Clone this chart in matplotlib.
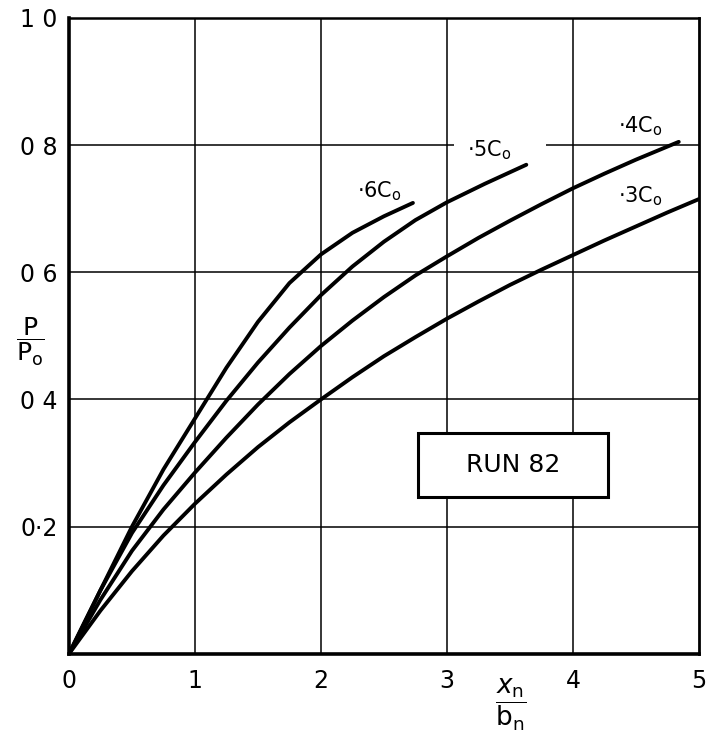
import matplotlib
matplotlib.use('Agg')
import matplotlib.pyplot as plt
from matplotlib.patches import Rectangle

plt.rcParams['font.family'] = 'DejaVu Sans'
plt.rcParams['mathtext.fontset'] = 'dejavusans'

# ── curves: P/Po against xn/bn for each concentration ──
x_6 = [0, 0.25, 0.5, 0.75, 1.0, 1.25, 1.5, 1.75, 2.0, 2.25, 2.5, 2.73]
y_6 = [0, 0.10, 0.20, 0.29, 0.37, 0.45, 0.522, 0.583, 0.628, 0.662, 0.688, 0.709]

x_5 = [0, 0.25, 0.5, 0.75, 1.0, 1.25, 1.5, 1.75, 2.0, 2.25, 2.5, 2.75, 3.0, 3.3, 3.63]
y_5 = [0, 0.10, 0.19, 0.265, 0.333, 0.398, 0.458, 0.513, 0.564, 0.609, 0.648, 0.682, 0.71, 0.739, 0.769]

x_4 = [0, 0.25, 0.5, 0.75, 1.0, 1.25, 1.5, 1.75, 2.0, 2.25, 2.5, 2.75, 3.0,
       3.25, 3.5, 3.75, 4.0, 4.25, 4.5, 4.84]
y_4 = [0, 0.085, 0.162, 0.227, 0.285, 0.34, 0.392, 0.44, 0.484, 0.524, 0.561, 0.595, 0.625,
       0.654, 0.681, 0.707, 0.732, 0.755, 0.777, 0.805]

x_3 = [0, 0.25, 0.5, 0.75, 1.0, 1.25, 1.5, 1.75, 2.0, 2.25, 2.5, 2.75, 3.0,
       3.25, 3.5, 3.75, 4.0, 4.25, 4.5, 4.75, 5.0]
y_3 = [0, 0.068, 0.13, 0.186, 0.236, 0.282, 0.325, 0.364, 0.40, 0.435, 0.468, 0.498, 0.527,
       0.554, 0.58, 0.604, 0.627, 0.65, 0.672, 0.694, 0.715]

curve_labels = ['·6C$_\\mathrm{o}$', '·5C$_\\mathrm{o}$', '·4C$_\\mathrm{o}$', '·3C$_\\mathrm{o}$']
label_pos = [(2.29, 0.728), (3.16, 0.792), (4.36, 0.829), (4.36, 0.72)]

x_ticks = [0, 1, 2, 3, 4, 5]
x_ticklabels = ['0', '1', '2', '3', '4', '5']
y_ticks = [0.2, 0.4, 0.6, 0.8, 1.0]
y_ticklabels = ['0·2', '0 4', '0 6', '0 8', '1 0']

fig = plt.figure(figsize=(7.11, 7.43), dpi=100)
ax = fig.add_axes([0.097, 0.120, 0.886, 0.856])
ax.set_xlim(0, 5)
ax.set_ylim(0, 1.0)

# grid drawn by hand so the 0.8 line can stop around the ·5Co label
for xv in x_ticks[1:-1]:
    ax.axvline(xv, color='black', lw=1.1, zorder=1)
for yv in y_ticks[:-1]:
    if yv == 0.8:
        ax.hlines(yv, 0, 3.06, color='black', lw=1.1, zorder=1)
        ax.hlines(yv, 3.79, 5, color='black', lw=1.1, zorder=1)
    else:
        ax.axhline(yv, color='black', lw=1.1, zorder=1)

for xs, ys in [(x_6, y_6), (x_5, y_5), (x_4, y_4), (x_3, y_3)]:
    ax.plot(xs, ys, color='black', lw=2.8, solid_capstyle='round',
            solid_joinstyle='round', zorder=3)

for lab, (lx, ly) in zip(curve_labels, label_pos):
    ax.text(lx, ly, lab, fontsize=15, ha='left', va='center', zorder=4)

# RUN 82 box
ax.add_patch(Rectangle((2.77, 0.247), 1.51, 0.10, facecolor='white',
                       edgecolor='black', lw=2.2, zorder=5))
ax.text(3.525, 0.297, 'RUN 82', fontsize=18, ha='center', va='center', zorder=6)

ax.set_xticks(x_ticks)
ax.set_xticklabels(x_ticklabels, fontsize=17)
ax.set_yticks(y_ticks)
ax.set_yticklabels(y_ticklabels, fontsize=17)
ax.tick_params(axis='x', length=0, pad=11)
ax.tick_params(axis='y', length=0, pad=8)

ax.spines['left'].set_linewidth(2.6)
ax.spines['bottom'].set_linewidth(2.6)
ax.spines['top'].set_linewidth(1.8)
ax.spines['right'].set_linewidth(2.0)

# axis labels as fractions
fig.text(30 / 711, 1 - 342 / 743, r'$\dfrac{\mathrm{P}}{\mathrm{P}_\mathrm{o}}$',
         fontsize=18, ha='center', va='center')
fig.text(511 / 711, 1 - 705 / 743, r'$\dfrac{x_\mathrm{n}}{\mathrm{b}_\mathrm{n}}$',
         fontsize=19, ha='center', va='center')

fig.savefig('out.png', dpi=100, facecolor='white')
